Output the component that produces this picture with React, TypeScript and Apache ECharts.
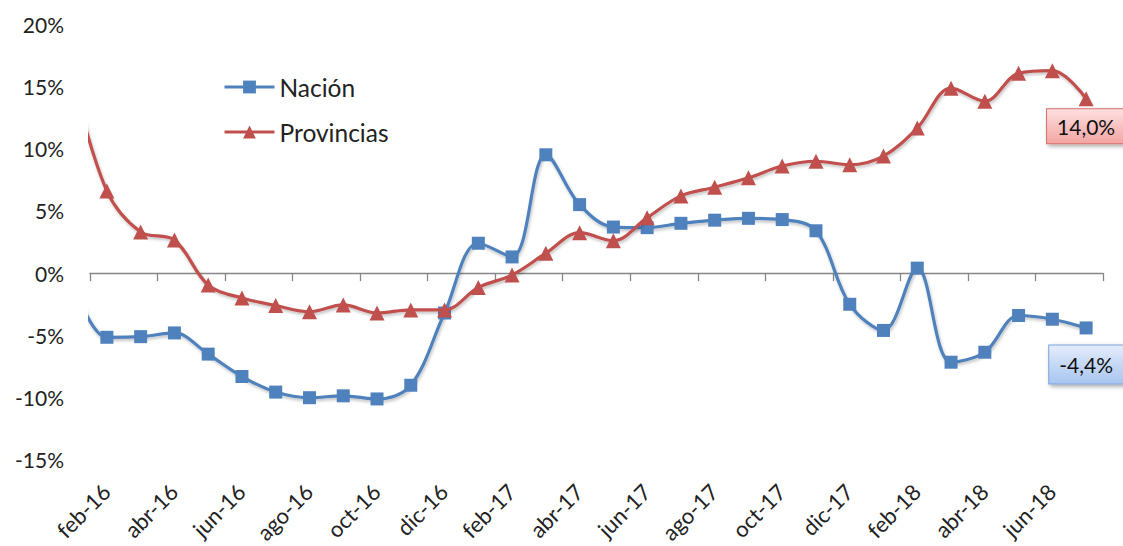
import React, { useEffect, useRef } from "react";
import * as echarts from "echarts";

// Monthly categories (ene-16 is only partly visible at the left edge)
const months = [
  "ene-16", "feb-16", "mar-16", "abr-16", "may-16", "jun-16", "jul-16", "ago-16", "sep-16", "oct-16", "nov-16", "dic-16",
  "ene-17", "feb-17", "mar-17", "abr-17", "may-17", "jun-17", "jul-17", "ago-17", "sep-17", "oct-17", "nov-17", "dic-17",
  "ene-18", "feb-18", "mar-18", "abr-18", "may-18", "jun-18", "jul-18",
];

const xTickLabels = [
  "feb-16", "abr-16", "jun-16", "ago-16", "oct-16", "dic-16", "feb-17", "abr-17",
  "jun-17", "ago-17", "oct-17", "dic-17", "feb-18", "abr-18", "jun-18",
];

const nacion = [
  -0.8, -5.15, -5.1, -4.8, -6.5, -8.3, -9.55, -10.0, -9.85, -10.1, -9.0, -3.2,
  2.4, 1.3, 9.5, 5.5, 3.7, 3.65, 4.0, 4.25, 4.4, 4.3, 3.4, -2.5,
  -4.6, 0.4, -7.15, -6.35, -3.4, -3.7, -4.4,
];

const provincias = [
  15.5, 6.6, 3.3, 2.65, -0.95, -2.0, -2.6, -3.1, -2.55, -3.2, -2.95, -2.95,
  -1.15, -0.15, 1.6, 3.25, 2.6, 4.45, 6.2, 6.9, 7.65, 8.6, 8.98, 8.7,
  9.4, 11.65, 14.85, 13.8, 16.05, 16.25, 14.0,
];

const yMin = -15;
const yMax = 20;
const yStep = 5;

const FONT = "Lato, 'Noto Sans', sans-serif";
const TEXT = "#222";
const BLUE = "#4F81BD";
const RED = "#C0504D";

const fmtPct = (v: number) => v.toFixed(1).replace(".", ",") + "%";

function buildData(values: number[], labelCfg: any) {
  return values.map((v, i) => {
    const pt = [i - 0.5, v];
    if (i === values.length - 1) {
      return { value: pt, label: labelCfg };
    }
    return pt;
  });
}

export default function App() {
  const ref = useRef<HTMLDivElement>(null);

  useEffect(() => {
    if (!ref.current) return;
    const chart = echarts.init(ref.current, undefined, { renderer: "svg" });

    const labelBase = {
      show: true,
      position: "bottom",
      fontSize: 21,
      fontFamily: FONT,
      color: "#111",
      lineHeight: 22,
      borderWidth: 1,
      shadowColor: "rgba(0,0,0,0.35)",
      shadowBlur: 4,
      shadowOffsetX: 2,
      shadowOffsetY: 2,
      formatter: (p: any) => fmtPct(p.value[1]),
    };

    const redLabel = {
      ...labelBase,
      distance: 3,
      padding: [6, 10, 6, 10],
      backgroundColor: new echarts.graphic.LinearGradient(0, 0, 0, 1, [
        { offset: 0, color: "#FDE0DF" },
        { offset: 1, color: "#F3A5A3" },
      ]),
      borderColor: "#D66F6D",
    };

    const blueLabel = {
      ...labelBase,
      distance: 11,
      padding: [8, 10, 8, 10],
      backgroundColor: new echarts.graphic.LinearGradient(0, 0, 0, 1, [
        { offset: 0, color: "#E3ECFB" },
        { offset: 1, color: "#A9C5F0" },
      ]),
      borderColor: "#7DA3DC",
    };

    const lineShadow = {
      shadowColor: "rgba(0,0,0,0.25)",
      shadowBlur: 3,
      shadowOffsetX: 1,
      shadowOffsetY: 2,
    };

    chart.setOption({
      animation: false,
      backgroundColor: "#ffffff",
      grid: { left: 90, right: 20, top: 24, bottom: 84.5 },
      legend: {
        data: ["Nación", "Provincias"],
        orient: "vertical",
        left: 218,
        top: 69,
        itemWidth: 50,
        itemHeight: 16,
        itemGap: 19,
        lineStyle: { width: 3 },
        textStyle: { fontSize: 24.5, fontFamily: FONT, color: TEXT, lineHeight: 26 },
      },
      xAxis: [
        {
          type: "value",
          min: 0,
          max: months.length - 1,
          interval: 0.25,
          position: "bottom",
          axisLine: { show: false, onZero: false },
          axisTick: { show: false },
          splitLine: { show: false },
          axisLabel: {
            rotate: 45,
            margin: 20,
            verticalAlign: "top",
            fontSize: 22,
            fontFamily: FONT,
            color: TEXT,
            showMinLabel: true,
            showMaxLabel: true,
            formatter: (v: number) => {
              const idx = v + 0.75;
              const k = Math.round(idx);
              if (Math.abs(idx - k) > 1e-6) return "";
              const m = months[k];
              return m && xTickLabels.indexOf(m) >= 0 ? m : "";
            },
          },
        },
        {
          type: "value",
          min: 0,
          max: months.length - 1,
          interval: 2,
          position: "top",
          axisLine: { show: true, onZero: true, lineStyle: { color: "#868686", width: 1.3 } },
          axisTick: { show: true, inside: true, length: 8, lineStyle: { color: "#868686", width: 1.3 } },
          axisLabel: { show: false },
          splitLine: { show: false },
        },
      ],
      yAxis: {
        type: "value",
        min: yMin,
        max: yMax,
        interval: yStep,
        axisLine: { show: false, onZero: false },
        axisTick: { show: false },
        splitLine: { show: false },
        axisLabel: {
          margin: 26,
          fontSize: 21,
          fontFamily: FONT,
          color: TEXT,
          formatter: (v: number) => v + "%",
        },
      },
      series: [
        {
          name: "Nación",
          type: "line",
          xAxisIndex: 0,
          smooth: 0.35,
          symbol: "rect",
          symbolSize: 13,
          clip: true,
          lineStyle: { color: BLUE, width: 3.2, ...lineShadow },
          itemStyle: { color: BLUE },
          data: buildData(nacion, blueLabel),
          z: 3,
        },
        {
          name: "Provincias",
          type: "line",
          xAxisIndex: 0,
          smooth: 0.35,
          symbol: "triangle",
          symbolSize: 15,
          clip: true,
          lineStyle: { color: RED, width: 3.2, ...lineShadow },
          itemStyle: { color: RED },
          data: buildData(provincias, redLabel),
          z: 4,
        },
      ],
    });

    return () => chart.dispose();
  }, []);

  return (
    <div
      ref={ref}
      style={{ position: "absolute", left: 0, top: 0, width: "1123px", height: "546px", background: "#fff" }}
    />
  );
}
